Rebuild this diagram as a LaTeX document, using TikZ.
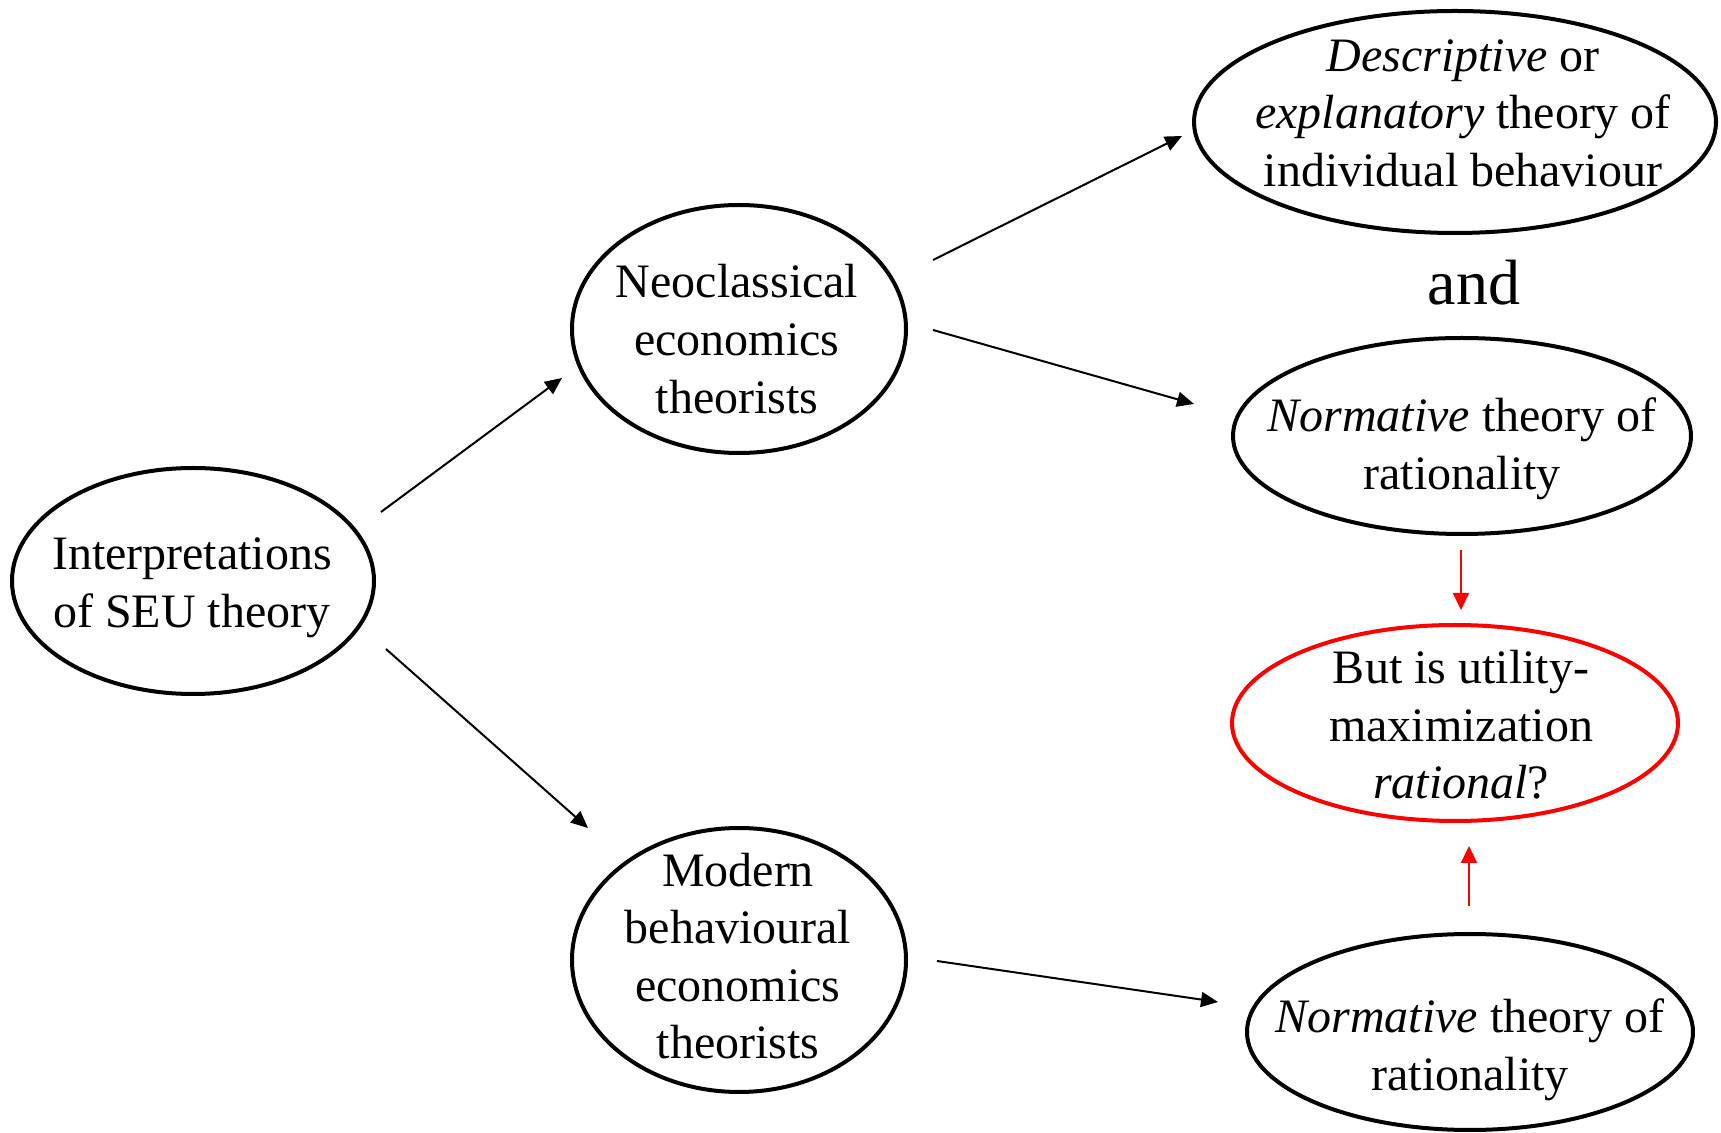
\documentclass[tikz,border=0pt]{standalone}
\usepackage{fontspec}
\setmainfont{Liberation Serif}
\usetikzlibrary{shapes.geometric,arrows.meta}
\begin{document}
\begin{tikzpicture}[x=0.5pt,y=-0.5pt,
  oval/.style={ellipse,draw=black,line width=2pt,inner sep=0pt},
  redoval/.style={ellipse,draw=red,line width=2pt,inner sep=0pt},
  txt/.style={align=center,font=\fontsize{24pt}{28.8pt}\selectfont,inner sep=0pt},
  conn/.style={line width=1pt,-{Triangle[length=8.5pt,width=7.5pt]}},
  rconn/.style={conn,draw=red,-{Triangle[length=8.5pt,width=8pt]},fill=red}]
\path[use as bounding box] (0,0) rectangle (1721,1133);
% ellipses
\node[oval,minimum width=181pt,minimum height=113pt] (seu) at (193,581) {};
\node[oval,minimum width=167pt,minimum height=124pt] (neo) at (739,329) {};
\node[oval,minimum width=167pt,minimum height=132pt] (beh) at (739,960) {};
\node[oval,minimum width=261pt,minimum height=111pt] (desc) at (1455,122) {};
\node[oval,minimum width=229pt,minimum height=98pt] (norm1) at (1462,436) {};
\node[redoval,minimum width=223pt,minimum height=98pt] (rat) at (1455,723) {};
\node[oval,minimum width=223pt,minimum height=98pt] (norm2) at (1470,1032) {};
% texts
\node[txt] (seut) at (192,588) {Interpretations\\of SEU theory};
\node[txt] (neot) at (737,339) {Neoclassical\\economics\\theorists};
\node[txt] (beht) at (738,956) {Modern\\behavioural\\economics\\theorists};
\node[txt] (desct) at (1463,113) {\textit{Descriptive} or\\\textit{explanatory} theory of\\individual behaviour};
\node[txt,font=\fontsize{32pt}{36pt}\selectfont] (andt) at (1474,283) {and};
\node[txt] (norm1t) at (1462,449) {\textit{Normative} theory of\\rationality};
\node[txt] (ratt) at (1461,725) {But is utility-\\maximization\\\textit{rational}?};
\node[txt] (norm2t) at (1470,1050) {\textit{Normative} theory of\\rationality};
% connector endpoints
\coordinate (a1) at (381,512); \coordinate (a2) at (562,378);
\coordinate (b1) at (386,649); \coordinate (b2) at (588,828);
\coordinate (c1) at (933,260); \coordinate (c2) at (1182,136);
\coordinate (d1) at (933,330); \coordinate (d2) at (1194,404);
\coordinate (e1) at (937,961); \coordinate (e2) at (1218,1002);
\coordinate (f1) at (1461,550); \coordinate (f2) at (1461,610);
\coordinate (g1) at (1469,906); \coordinate (g2) at (1469,846);
\draw[conn] (a1) -- (a2);
\draw[conn] (b1) -- (b2);
\draw[conn] (c1) -- (c2);
\draw[conn] (d1) -- (d2);
\draw[conn] (e1) -- (e2);
\draw[rconn] (f1) -- (f2);
\draw[rconn] (g1) -- (g2);
\end{tikzpicture}
\end{document}
